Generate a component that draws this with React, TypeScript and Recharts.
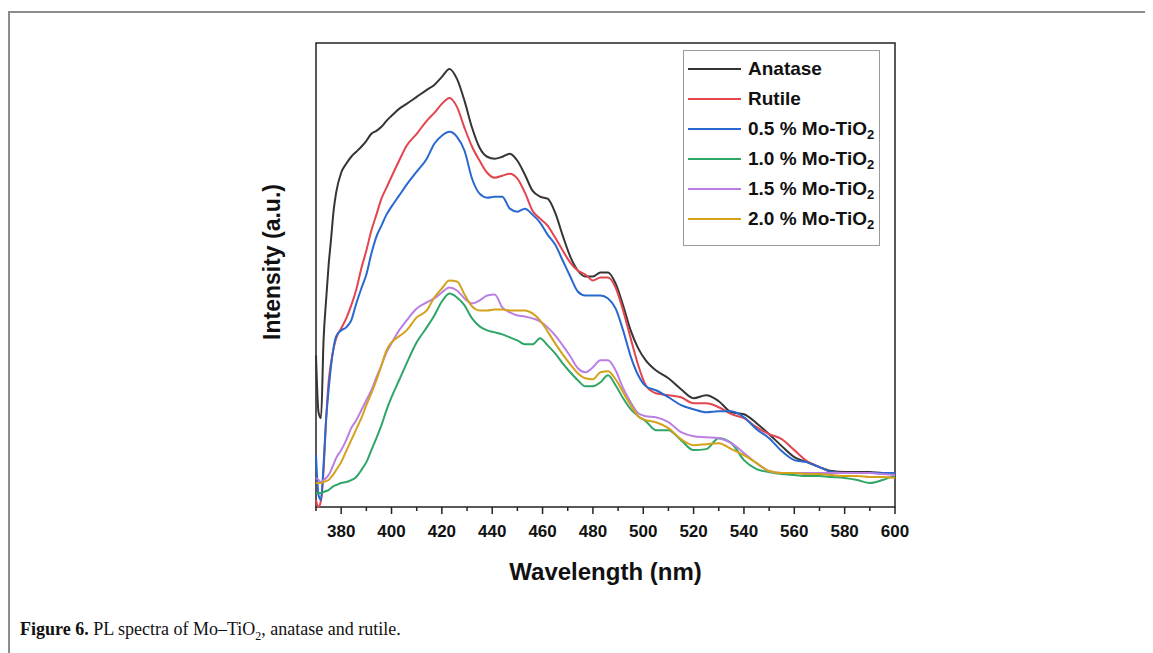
import { LineChart, Line, XAxis, YAxis, Legend, ReferenceArea, Label } from 'recharts';

const wavelengths = [
  370, 371, 372, 373, 374, 375, 376, 377, 378,
  380, 382, 384, 386, 388, 390, 392, 394, 396, 398, 400,
  403, 406,
  410, 414, 417,
  420, 423, 426, 429, 432, 435, 438, 441, 444, 447, 450, 453, 456, 459, 462, 465, 468, 471, 474, 477, 480, 483, 486, 489, 492, 495, 498, 501,
  505, 510, 515, 520, 525, 530, 535, 540, 545, 550, 555, 560, 565, 570, 575, 580, 585, 590, 595, 600,
];

const anatase = [
  152, 95, 89, 167, 207, 242, 269, 297, 315,
  335, 344, 351, 356, 361, 367, 374, 377, 381, 387, 392,
  399, 404,
  411, 418, 423,
  431, 439, 429, 407, 380, 360, 351, 349, 351, 354, 347, 333, 317, 311, 309, 295, 272, 251, 237, 231, 231, 235, 235, 224, 202, 177, 159, 147,
  137, 129, 118, 109, 112, 106, 95, 93, 84, 73, 61, 50, 45, 40, 36, 35, 35, 35, 34, 34,
];

const rutile = [
  7, 0, 7, 37, 87, 125, 145, 159, 169,
  179, 189, 202, 218, 239, 257, 277, 293, 309, 320, 331,
  347, 362,
  374, 387, 395,
  404, 410, 401, 380, 361, 347, 335, 330, 332, 334, 329, 315, 297, 289, 282, 270, 257, 245, 237, 233, 227, 230, 230, 220, 197, 169, 142, 122,
  114, 112, 110, 104, 104, 100, 93, 89, 80, 73, 68, 57, 46, 40, 35, 34, 34, 34, 34, 34,
];

const mo05 = [
  52, 12, 7, 42, 87, 117, 142, 160, 171,
  177, 180, 187, 204, 219, 233, 254, 271, 282, 293, 301,
  312, 323,
  336, 349, 364,
  372, 376, 371, 357, 329, 314, 310, 311, 311, 299, 296, 299, 293, 285, 273, 263, 247, 231, 216, 212, 212, 212, 209, 199, 177, 151, 132, 121,
  117, 110, 102, 98, 95, 96, 96, 90, 78, 69, 56, 47, 45, 40, 35, 34, 34, 34, 34, 34,
];

const mo10 = [
  14, 14, 14, 15, 16, 17, 19, 21, 22,
  24, 25, 27, 30, 37, 45, 57, 69, 82, 97, 110,
  127, 144,
  165, 180, 192,
  206, 214, 210, 202, 189, 181, 177, 175, 173, 170, 167, 163, 163, 169, 162, 154, 144, 135, 127, 121, 121, 125, 132, 122, 109, 98, 91, 86,
  77, 77, 67, 57, 58, 69, 64, 47, 38, 35, 33, 32, 31, 31, 30, 29, 27, 24, 27, 32,
];

const mo15 = [
  29, 27, 25, 27, 29, 32, 37, 43, 49,
  57, 67, 79, 87, 97, 107, 117, 130, 142, 155, 164,
  177, 187,
  199, 205, 209,
  215, 220, 217, 209, 204, 207, 212, 213, 200, 195, 192, 191, 189, 186, 180, 172, 162, 151, 139, 135, 140, 147, 147, 137, 119, 105, 94, 91,
  90, 85, 75, 71, 70, 69, 64, 54, 44, 36, 34, 34, 34, 34, 34, 34, 34, 34, 33, 32,
];

const mo20 = [
  24, 24, 24, 25, 26, 27, 30, 33, 37,
  45, 56, 67, 78, 89, 102, 114, 127, 142, 157, 165,
  171, 177,
  190, 197, 210,
  219, 227, 226, 213, 201, 197, 197, 198, 198, 197, 197, 197, 194, 187, 176, 164, 153, 143, 134, 129, 128, 135, 136, 128, 115, 102, 91, 87,
  85, 79, 68, 62, 63, 64, 58, 52, 44, 36, 34, 34, 33, 33, 32, 31, 31, 30, 30, 29,
];

const xTicks = [370, 380, 390, 400, 410, 420, 430, 440, 450, 460, 470, 480, 490, 500, 510, 520, 530, 540, 550, 560, 570, 580, 590, 600];

const series = [
  { key: 'anatase', name: 'Anatase', sub: false, color: '#353535' },
  { key: 'rutile', name: 'Rutile', sub: false, color: '#e2454d' },
  { key: 'mo05', name: '0.5 % Mo-TiO', sub: true, color: '#2868cf' },
  { key: 'mo10', name: '1.0 % Mo-TiO', sub: true, color: '#2fa566' },
  { key: 'mo15', name: '1.5 % Mo-TiO', sub: true, color: '#b97fe3' },
  { key: 'mo20', name: '2.0 % Mo-TiO', sub: true, color: '#d4a21a' },
];

const data = wavelengths.map((w, i) => ({
  w,
  anatase: anatase[i],
  rutile: rutile[i],
  mo05: mo05[i],
  mo10: mo10[i],
  mo15: mo15[i],
  mo20: mo20[i],
}));

const FONT = '"Liberation Sans", Arial, sans-serif';

const WaveTick = (props: any) => {
  const { x, y, payload } = props;
  const v = payload.value;
  const major = v % 20 === 0;
  return (
    <g>
      <line x1={x} y1={y} x2={x} y2={y + (major ? 7 : 4)} stroke="#222" strokeWidth={1.5} />
      {major && v >= 380 && (
        <text x={x} y={y + 30} textAnchor="middle" fontFamily={FONT} fontWeight="bold" fontSize={17} fill="#111">
          {v}
        </text>
      )}
    </g>
  );
};

const renderLegend = () => (
  <div
    style={{
      border: '1px solid #9a9a9a',
      width: 195,
      height: 191,
      boxSizing: 'content-box',
      paddingTop: 3,
      fontFamily: FONT,
      fontWeight: 'bold',
      fontSize: 19,
      color: '#111',
      background: '#fff',
    }}
  >
    {series.map((s) => (
      <div key={s.key} style={{ height: 30, display: 'flex', alignItems: 'center' }}>
        <svg width={60} height={30} style={{ flex: 'none' }}>
          <line x1={4} y1={15} x2={57} y2={15} stroke={s.color} strokeWidth={2} />
        </svg>
        <span style={{ marginLeft: 4, whiteSpace: 'nowrap', lineHeight: '30px' }}>
          {s.name}
          {s.sub && <sub style={{ fontSize: 13, lineHeight: 0, verticalAlign: -4 }}>2</sub>}
        </span>
      </div>
    ))}
  </div>
);

export default function App() {
  return (
    <div style={{ paddingTop: 3 }}>
      <div
        style={{
          position: 'relative',
          width: 1143,
          height: 640,
          borderTop: '2px solid #8c8c8c',
          borderLeft: '2px solid #8c8c8c',
        }}
      >
        <div style={{ position: 'absolute', left: 0, top: 0 }}>
          <LineChart width={1100} height={600} data={data} margin={{ top: 30, right: 215, bottom: 76, left: 246 }}>
            <XAxis
              dataKey="w"
              type="number"
              domain={[370, 600]}
              ticks={xTicks}
              interval={0}
              tickSize={0}
              tickMargin={0}
              tick={<WaveTick />}
              axisLine={false}
              height={30}
            >
              <Label
                content={({ viewBox }: any) => (
                  <text
                    x={viewBox.x + viewBox.width / 2}
                    y={viewBox.y + 73}
                    textAnchor="middle"
                    fontFamily={FONT}
                    fontWeight="bold"
                    fontSize={24}
                    fill="#111"
                  >
                    Wavelength (nm)
                  </text>
                )}
              />
            </XAxis>
            <YAxis type="number" domain={[0, 465]} width={60} tick={false} axisLine={false} tickLine={false}>
              <Label
                content={({ viewBox }: any) => {
                  const cx = viewBox.x + viewBox.width - 44;
                  return (
                    <text
                      x={cx}
                      y={249}
                      textAnchor="middle"
                      dominantBaseline="central"
                      transform={`rotate(-90 ${cx} 249)`}
                      fontFamily={FONT}
                      fontWeight="bold"
                      fontSize={23}
                      fill="#111"
                    >
                      Intensity (a.u.)
                    </text>
                  );
                }}
              />
            </YAxis>
            <ReferenceArea x1={370} x2={600} y1={0} y2={465} fill="none" stroke="#222" strokeWidth={1.5} />
            {series.map((s) => (
              <Line
                key={s.key}
                type="monotone"
                dataKey={s.key}
                name={s.name}
                stroke={s.color}
                strokeWidth={2}
                dot={false}
                activeDot={false}
                isAnimationActive={false}
              />
            ))}
            <Legend
              layout="vertical"
              align="center"
              verticalAlign="middle"
              content={renderLegend}
              wrapperStyle={{ position: 'absolute', left: 673, top: 37, width: 'auto', height: 'auto' }}
            />
          </LineChart>
        </div>
        <div
          style={{
            position: 'absolute',
            left: 10,
            top: 606,
            fontFamily: '"Liberation Serif", "Times New Roman", serif',
            fontSize: 18,
            lineHeight: '20px',
            color: '#111',
            whiteSpace: 'nowrap',
          }}
        >
          <b>Figure 6.</b> PL spectra of Mo–TiO<sub style={{ fontSize: 12, lineHeight: 0 }}>2</sub>, anatase and rutile.
        </div>
      </div>
    </div>
  );
}
